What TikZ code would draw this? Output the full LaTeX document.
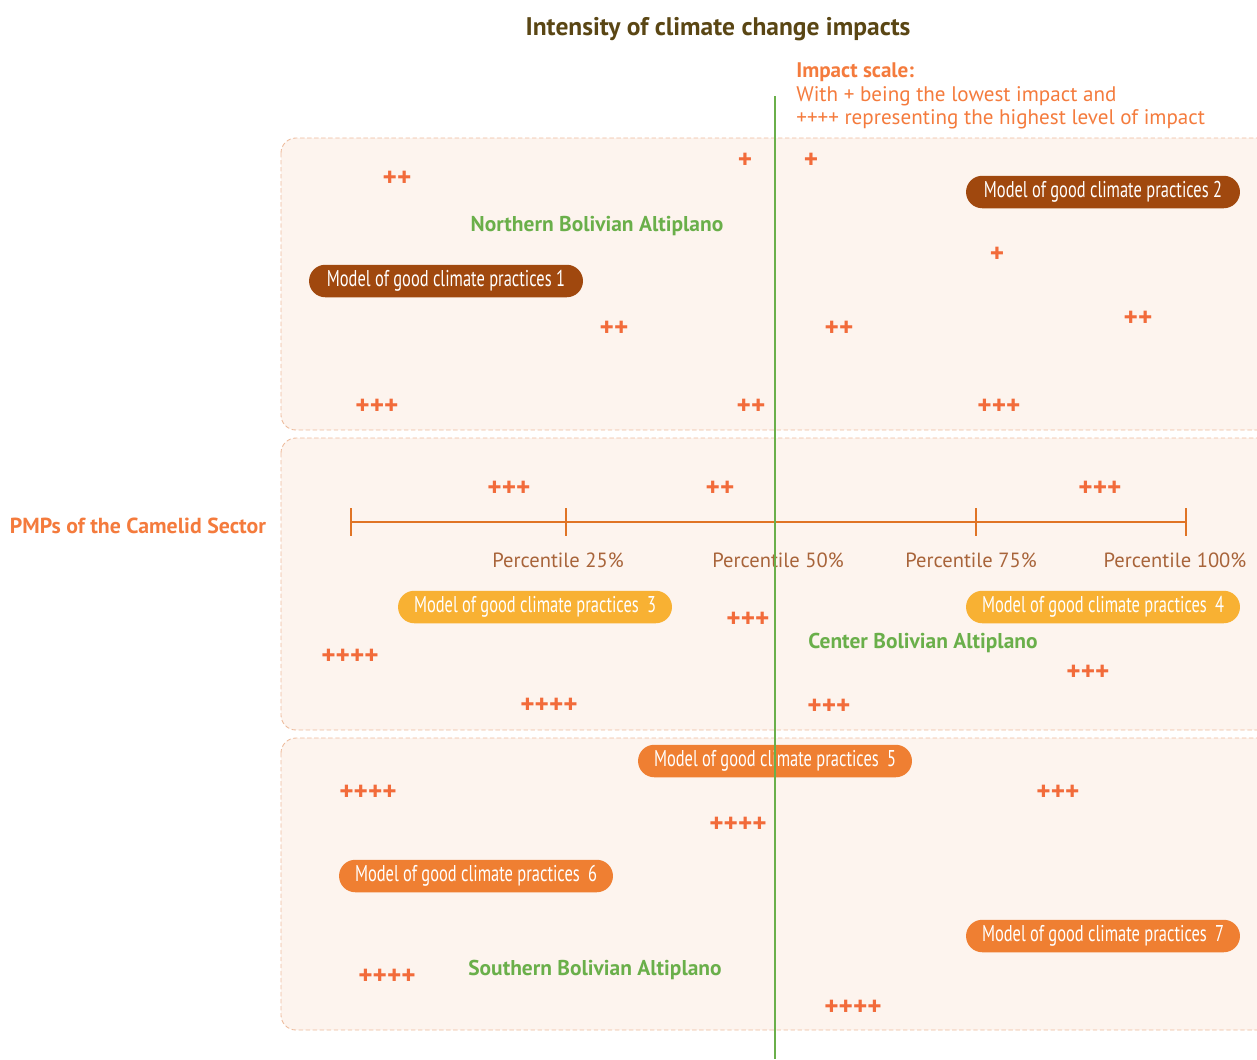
\documentclass[tikz,border=0pt]{standalone}
\usepackage{fontspec}
\setmainfont{PT Sans}
\newfontfamily\narrowfont[FakeStretch=0.72]{PT Sans}
\usetikzlibrary{calc}

\definecolor{titlebrown}{HTML}{5A4614}
\definecolor{scaleorange}{HTML}{F47B3D}
\definecolor{plusorange}{HTML}{F26B3A}
\definecolor{regiongreen}{HTML}{6AAF4A}
\definecolor{bandfill}{HTML}{FDF4EE}
\definecolor{bandline}{HTML}{EDBB9C}
\definecolor{axisorange}{HTML}{E07425}
\definecolor{pctbrown}{HTML}{A8643A}
\definecolor{modeldark}{HTML}{A0480E}
\definecolor{modelyellow}{HTML}{F8B133}
\definecolor{modelorange}{HTML}{EF7F32}

\tikzset{
  band/.style={draw=bandline, fill=bandfill, line width=0.5pt,
    dash pattern=on 2.5pt off 1.5pt, rounded corners=0.3cm},
  plus/.style={text=plusorange, font=\fontsize{15.5}{18}\selectfont\bfseries, inner sep=0pt, yshift=-1.5pt},
  region/.style={text=regiongreen, font=\fontsize{12.2}{14}\selectfont\bfseries, inner sep=0pt, yshift=-1pt},
  pct/.style={text=pctbrown, font=\fontsize{11.7}{14}\selectfont, inner sep=0pt, yshift=-1pt},
  model/.style={fill=#1, text=white, minimum width=5.48cm, minimum height=0.65cm,
    rounded corners=0.325cm, inner sep=0pt, font=\narrowfont\fontsize{13}{15}\selectfont},
  tick/.style={draw=axisorange, line width=1.3pt}
}

\begin{document}
\begin{tikzpicture}[x=0.02cm,y=-0.02cm]
\useasboundingbox (0,0) rectangle (1257,1059);
\clip (0,0) rectangle (1257,1059);

% bands
\draw[band] (281,138) rectangle (1290,430);
\draw[band] (281,438) rectangle (1290,730);
\draw[band] (281,738) rectangle (1290,1030);

% headings
\node[text=titlebrown, font=\fontsize{14.5}{17}\selectfont\bfseries] (title) at (718,29) {Intensity of climate change impacts};
\node[text=scaleorange, font=\fontsize{12.4}{14}\selectfont\bfseries, inner sep=0pt] (pmp) at (138,526) {PMPs of the Camelid Sector};
\node[text=scaleorange, font=\fontsize{12}{13.6}\selectfont, align=left, anchor=north west, inner sep=0pt] (legend) at (796,62)
  {\textbf{Impact scale:}\\With + being the lowest impact and\\++++ representing the highest level of impact};

% percentile axis
\coordinate (p0) at (351,522);
\coordinate (p25) at (566,522);
\coordinate (p50) at (776,522);
\coordinate (p75) at (976,522);
\coordinate (p100) at (1186,522);
\draw[tick] (p0) -- (p100);
\foreach \p in {p0,p25,p75,p100}
  \draw[tick] ($(\p)+(0,-14)$) -- ($(\p)+(0,14)$);
\node[pct] (l25) at (558,559) {Percentile 25\%};
\node[pct] (l50) at (778,559) {Percentile 50\%};
\node[pct] (l75) at (971,559) {Percentile 75\%};
\node[pct] (l100) at (1175,559) {Percentile 100\%};

% regions
\node[region] (north) at (597,224) {Northern Bolivian Altiplano};
\node[region] (center) at (923,641) {Center Bolivian Altiplano};
\node[region] (south) at (595,968) {Southern Bolivian Altiplano};

% models
\node[model=modeldark] (m1) at (446,281) {Model of good climate practices 1};
\node[model=modeldark] (m2) at (1103,192) {Model of good climate practices 2};
\node[model=modelyellow] (m3) at (535,607) {Model of good climate practices\, 3};
\node[model=modelyellow] (m4) at (1103,607) {Model of good climate practices\, 4};
\node[model=modelorange] (m5) at (775,761) {Model of good climate practices\, 5};
\node[model=modelorange] (m6) at (476,876) {Model of good climate practices\, 6};
\node[model=modelorange] (m7) at (1103,936) {Model of good climate practices\, 7};

% impact marks
\foreach \x/\y/\s [count=\i] in {
  397/176/++, 745/158/+, 811/158/+, 997/252/+, 614/326/++, 839/326/++,
  1138/316/++, 377/404/+++, 751/404/++, 999/404/+++,
  509/486/+++, 720/486/++, 1100/486/+++, 748/617/+++, 350/654/++++,
  1088/670/+++, 549/703/++++, 829/704/+++,
  368/790/++++, 1058/790/+++, 738/822/++++, 387/974/++++, 853/1005/++++}
  \node[plus] (mark\i) at (\x,\y) {\s};

% median line
\coordinate (gtop) at (775,96);
\coordinate (gbot) at (775,1059);
\draw[regiongreen, line width=1.4pt] (gtop) -- (gbot);
\end{tikzpicture}
\end{document}
